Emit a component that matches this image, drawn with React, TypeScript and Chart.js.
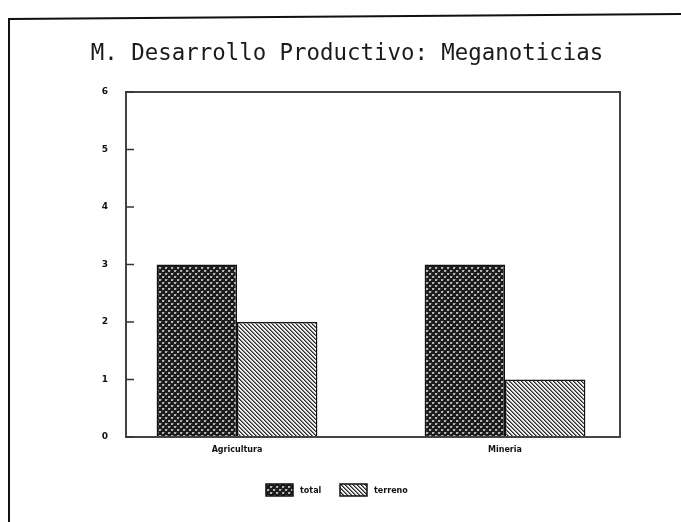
import React, { useEffect, useRef } from "react";
import { Chart, registerables } from "chart.js";

Chart.register(...registerables);

const titleText = "M. Desarrollo Productivo: Meganoticias";
const categories = ["Agricultura", "Mineria"];
const totalValues = [3, 3];
const terrenoValues = [2, 1];
const seriesNames = ["total", "terreno"];
const yTicks = [0, 1, 2, 3, 4, 5, 6];

function makeCrossPattern(ctx: CanvasRenderingContext2D) {
  const t = document.createElement("canvas");
  t.width = 6;
  t.height = 6;
  const c = t.getContext("2d")!;
  c.fillStyle = "#1c1c1c";
  c.fillRect(0, 0, 6, 6);
  c.fillStyle = "#b4b4b4";
  c.fillRect(0, 0, 2, 2);
  c.fillRect(3, 3, 2, 2);
  c.fillStyle = "#5a5a5a";
  c.fillRect(2, 0, 1, 1);
  c.fillRect(5, 3, 1, 1);
  return ctx.createPattern(t, "repeat")!;
}

function makeHatchPattern(ctx: CanvasRenderingContext2D) {
  const t = document.createElement("canvas");
  t.width = 4;
  t.height = 4;
  const c = t.getContext("2d")!;
  c.fillStyle = "#f0f0f0";
  c.fillRect(0, 0, 4, 4);
  for (let i = 0; i < 4; i++) {
    c.fillStyle = "#2a2a2a";
    c.fillRect(i, i, 1, 1);
    c.fillStyle = "#7a7a7a";
    c.fillRect((i + 1) % 4, i, 1, 1);
  }
  return ctx.createPattern(t, "repeat")!;
}

export default function App() {
  const ref = useRef<HTMLCanvasElement | null>(null);

  useEffect(() => {
    const canvas = ref.current!;
    const ctx = canvas.getContext("2d")!;
    const fills = [makeCrossPattern(ctx), makeHatchPattern(ctx)];

    const decor = {
      id: "decor",
      beforeDraw(chart: any) {
        const g = chart.ctx;
        g.save();
        g.fillStyle = "#ffffff";
        g.fillRect(0, 0, chart.width, chart.height);
        // page frame
        g.strokeStyle = "#111";
        g.lineWidth = 2;
        g.beginPath();
        g.moveTo(9, 522);
        g.lineTo(9, 19);
        g.lineTo(681, 14);
        g.stroke();
        // title
        g.fillStyle = "#1a1a1a";
        g.font = "22.4px 'DejaVu Sans Mono'";
        g.textAlign = "center";
        g.textBaseline = "alphabetic";
        g.fillText(titleText, 347, 60);
        g.restore();
      },
      afterDraw(chart: any) {
        const g = chart.ctx;
        const a = chart.chartArea;
        const y = chart.scales.y;
        g.save();
        g.strokeStyle = "#444";
        g.lineWidth = 2;
        g.strokeRect(a.left, a.top, a.right - a.left, a.bottom - a.top);
        g.lineWidth = 1.5;
        g.strokeStyle = "#333";
        yTicks.forEach((v) => {
          const py = y.getPixelForValue(v);
          g.beginPath();
          g.moveTo(a.left, py);
          g.lineTo(a.left + 8, py);
          g.stroke();
        });
        // legend
        const boxW = 27;
        const boxH = 12;
        const ly = 484;
        const items = [
          { x: 266, name: seriesNames[0], fill: fills[0] },
          { x: 340, name: seriesNames[1], fill: fills[1] },
        ];
        g.font = "bold 8px 'DejaVu Sans'";
        g.textAlign = "left";
        g.textBaseline = "middle";
        items.forEach((it) => {
          g.fillStyle = it.fill;
          g.fillRect(it.x, ly, boxW, boxH);
          g.strokeStyle = "#111";
          g.lineWidth = 1.5;
          g.strokeRect(it.x, ly, boxW, boxH);
          g.fillStyle = "#111";
          g.fillText(it.name, it.x + boxW + 7, ly + boxH / 2 + 1);
        });
        g.restore();
      },
    };

    const chart = new Chart(canvas, {
      type: "bar",
      data: {
        datasets: [
          {
            label: seriesNames[0],
            data: totalValues.map((v, i) => ({ x: i + 1, y: v })),
            backgroundColor: fills[0],
            borderColor: "#111",
            borderWidth: 1.5,
          },
          {
            label: seriesNames[1],
            data: terrenoValues.map((v, i) => ({ x: i + 1, y: v })),
            backgroundColor: fills[1],
            borderColor: "#111",
            borderWidth: 1.5,
          },
        ],
      },
      options: {
        animation: false,
        responsive: false,
        maintainAspectRatio: false,
        categoryPercentage: 0.6,
        barPercentage: 1,
        layout: { padding: { top: 92, right: 61, bottom: 65, left: 0 } },
        plugins: {
          legend: { display: false },
          title: { display: false },
          tooltip: { enabled: false },
        },
        scales: {
          x: {
            type: "linear",
            offset: false,
            min: 0.5858,
            max: 2.4291,
            grid: { display: false, offset: false },
            border: { display: false },
            afterBuildTicks: (s: any) => {
              s.ticks = categories.map((_, i) => ({ value: i + 1 }));
            },
            afterFit: (s: any) => {
              s.height = 20;
            },
            ticks: {
              autoSkip: false,
              maxRotation: 0,
              padding: 0,
              color: "#111",
              font: { family: "'DejaVu Sans'", size: 8, weight: "bold" },
              callback: (v: any) => categories[Math.round(v) - 1] ?? "",
            },
          },
          y: {
            min: 0,
            max: 6,
            grid: { display: false, drawTicks: false },
            border: { display: false },
            afterBuildTicks: (s: any) => {
              s.ticks = yTicks.map((v) => ({ value: v }));
            },
            afterFit: (s: any) => {
              s.width = 126;
            },
            ticks: {
              padding: 18,
              color: "#111",
              font: { family: "'DejaVu Sans'", size: 9, weight: "bold" },
            },
          },
        },
      },
      plugins: [decor],
    } as any);

    return () => chart.destroy();
  }, []);

  return (
    <div style={{ position: "absolute", left: 0, top: 0, width: 681, height: 522 }}>
      <canvas ref={ref} width={681} height={522} style={{ display: "block" }} />
    </div>
  );
}
